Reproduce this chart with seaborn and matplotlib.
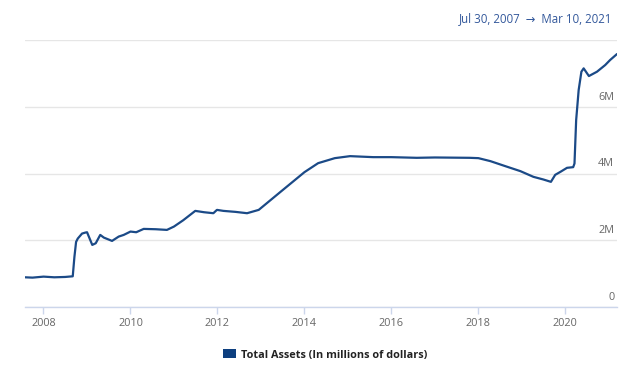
import matplotlib
matplotlib.use("Agg")
import matplotlib.pyplot as plt
from matplotlib.patches import Patch
from matplotlib.transforms import blended_transform_factory, offset_copy
import seaborn as sns
import pandas as pd

# ---- data (total assets; axis shown in "M" units) ----
dates = [
    "2007-07-30", "2007-10-01", "2008-01-02", "2008-04-01", "2008-07-01",
    "2008-09-03", "2008-09-17", "2008-10-01", "2008-10-15", "2008-11-20",
    "2008-12-18", "2009-01-01", "2009-02-14", "2009-03-15", "2009-04-22",
    "2009-05-22", "2009-07-30", "2009-09-24", "2009-11-05", "2010-01-01",
    "2010-02-18", "2010-04-22", "2010-08-01", "2010-11-03", "2011-01-01",
    "2011-03-20", "2011-06-29", "2011-09-10", "2011-11-28", "2011-12-28",
    "2012-02-20", "2012-06-01", "2012-09-06", "2012-12-13", "2013-06-14",
    "2014-01-01", "2014-04-26", "2014-09-13", "2015-01-19", "2015-08-01",
    "2016-01-01", "2016-08-01", "2017-01-01", "2017-10-19", "2018-01-01",
    "2018-04-12", "2018-08-15", "2018-12-20", "2019-04-08", "2019-07-01",
    "2019-09-02", "2019-10-08", "2019-11-21", "2020-01-15", "2020-03-07",
    "2020-03-18", "2020-04-01", "2020-04-22", "2020-05-15", "2020-06-03",
    "2020-07-17", "2020-09-23", "2020-12-01", "2021-01-11", "2021-03-10",
]
values = [
    0.89, 0.88, 0.91, 0.89, 0.90,
    0.92, 1.50, 1.95, 2.05, 2.20,
    2.23, 2.24, 1.86, 1.91, 2.16,
    2.08, 1.98, 2.11, 2.16, 2.26,
    2.24, 2.34, 2.33, 2.31, 2.41,
    2.60, 2.88, 2.84, 2.81, 2.91,
    2.88, 2.85, 2.81, 2.91, 3.45,
    4.04, 4.31, 4.46, 4.52, 4.49,
    4.49, 4.47, 4.48, 4.47, 4.46,
    4.37, 4.22, 4.07, 3.90, 3.82,
    3.75, 3.96, 4.05, 4.17, 4.19,
    4.30, 5.60, 6.50, 7.05, 7.15,
    6.92, 7.05, 7.25, 7.40, 7.58,
]
y_ticks = [0, 2, 4, 6, 8]
y_labels = ["0", "2M", "4M", "6M", ""]
x_years = [2008, 2010, 2012, 2014, 2016, 2018, 2020]
title_text = "Jul 30, 2007  \u2192  Mar 10, 2021"
legend_label = "Total Assets (In millions of dollars)"

df = pd.DataFrame({"date": pd.to_datetime(dates), "assets": values})

sns.set_theme(style="white")
plt.rcParams["font.family"] = ["Open Sans", "DejaVu Sans"]

W, H = 642, 383
fig = plt.figure(figsize=(W / 100, H / 100), dpi=100)
left, right, top, bottom = 25, 617, 40, 307
ax = fig.add_axes([left / W, 1 - bottom / H, (right - left) / W, (bottom - top) / H])

line_color = "#1b4a87"
sns.lineplot(data=df, x="date", y="assets", ax=ax, color=line_color, linewidth=1.6)

ax.set_xlim(pd.Timestamp("2007-07-30"), pd.Timestamp("2021-03-10"))
ax.set_ylim(0, 8)
ax.set_xlabel("")
ax.set_ylabel("")

# horizontal gridlines
ax.set_yticks(y_ticks)
ax.yaxis.grid(True, color="#e6e6e6", linewidth=1)
ax.xaxis.grid(False)
ax.tick_params(axis="y", left=False, right=False, labelleft=False, labelright=False)

# y labels inside, right-aligned, sitting above gridlines
trans = blended_transform_factory(ax.transAxes, ax.transData)
trans = offset_copy(trans, fig=fig, x=-2, y=3, units="points")
for v, lab in zip(y_ticks, y_labels):
    if lab:
        ax.text(1.0, v, lab, transform=trans, ha="right", va="bottom",
                fontsize=7.8, color="#666666")

# x axis
ax.set_xticks([pd.Timestamp(f"{y}-01-01") for y in x_years])
ax.set_xticklabels([str(y) for y in x_years])
ax.tick_params(axis="x", bottom=True, length=5, width=1, color="#ccd6eb",
               labelsize=7.8, labelcolor="#666666", pad=3)

for s in ["top", "right", "left"]:
    ax.spines[s].set_visible(False)
ax.spines["bottom"].set_color("#ccd6eb")
ax.spines["bottom"].set_linewidth(1)

# date range title
fig.text(612 / W, 1 - 19 / H, title_text, ha="right", va="center",
         fontsize=8.3, color="#33589b")

# legend
handle = Patch(facecolor="#0d3f7f", edgecolor="none")
fig.legend([handle], [legend_label], loc="center",
           bbox_to_anchor=(325 / W, 1 - 355 / H), frameon=False,
           prop={"weight": "bold", "size": 7.8}, labelcolor="#222222",
           handlelength=1.2, handleheight=0.9, handletextpad=0.4)

fig.savefig("out.png", dpi=100)
